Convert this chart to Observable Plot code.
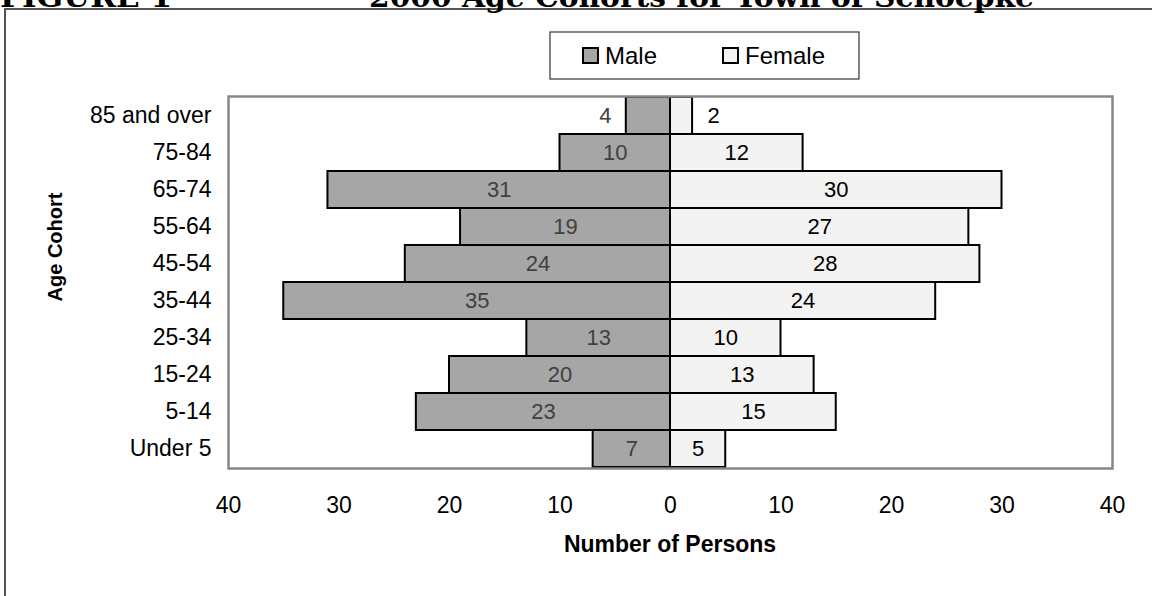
<!DOCTYPE html>
<html><head><meta charset="utf-8">
<script src="https://cdn.jsdelivr.net/npm/d3@7"></script>
<script src="https://cdn.jsdelivr.net/npm/@observablehq/plot@0.6"></script>
<style>
body{margin:0;background:#fff;overflow:hidden}
#wrap{position:relative;width:1152px;height:596px;font-family:"Liberation Sans",Arial,sans-serif}
#wrap svg{position:absolute;left:0;top:0}
</style></head><body><div id="wrap"></div>
<script>
const cohorts = ["85 and over","75-84","65-74","55-64","45-54","35-44","25-34","15-24","5-14","Under 5"];
const male = [4,10,31,19,24,35,13,20,23,7];
const female = [2,12,30,27,28,24,10,13,15,5];
const xTicks = [-40,-30,-20,-10,0,10,20,30,40];
const seriesNames = ["Male","Female"];
const figureLabel = "FIGURE 1";
const titleText = "2000 Age Cohorts for Town of Schoepke";
const xTitle = "Number of Persons";
const yTitle = "Age Cohort";

const rows = cohorts.map((c,i)=>({cohort:c, male:male[i], female:female[i]}));
const font = "Liberation Sans, Arial, sans-serif";
const maleFill = "#a6a6a6";
const femaleFill = "#f3f3f3";

const plot = Plot.plot({
  width:1152, height:596,
  marginLeft:228, marginRight:40, marginTop:96, marginBottom:128,
  style:{fontFamily:font, fontSize:"23px", color:"#000", background:"transparent", overflow:"visible"},
  x:{domain:[-40,40], ticks:xTicks, tickFormat:d=>Math.abs(d), tickSize:0, tickPadding:28, label:null},
  y:{domain:cohorts, padding:0, tickSize:0, tickPadding:17, label:null},
  marks:[
    Plot.barX(rows,{y:"cohort", x1:d=>-d.male, x2:0, fill:maleFill, stroke:"#000", strokeWidth:2}),
    Plot.barX(rows,{y:"cohort", x1:0, x2:"female", fill:femaleFill, stroke:"#000", strokeWidth:2}),
    Plot.text(rows,{filter:d=>d.male>=5, y:"cohort", x:d=>-d.male/2, text:d=>String(d.male), fill:"#404040", fontSize:22}),
    Plot.text(rows,{filter:d=>d.male<5, y:"cohort", x:d=>-d.male, dx:-21, text:d=>String(d.male), fill:"#404040", fontSize:22}),
    Plot.text(rows,{filter:d=>d.female>=5, y:"cohort", x:d=>d.female/2, text:d=>String(d.female), fill:"#000", fontSize:22}),
    Plot.text(rows,{filter:d=>d.female<5, y:"cohort", x:d=>d.female, dx:21, text:d=>String(d.female), fill:"#000", fontSize:22}),
    Plot.frame({stroke:"#878787", strokeWidth:2.5})
  ]
});

const wrap = document.getElementById("wrap");
wrap.appendChild(plot);

// overlay: frame, title, legend, axis titles
const ov = d3.select(wrap).append("svg").attr("width",1152).attr("height",596)
  .style("pointer-events","none").style("overflow","hidden");
ov.append("rect").attr("x",5).attr("y",9).attr("width",1200).attr("height",700)
  .attr("fill","none").attr("stroke","#555").attr("stroke-width",2);
ov.append("text").attr("x",0).attr("y",7).attr("font-family","DejaVu Serif, serif").attr("font-weight","bold")
  .attr("font-size",28).attr("textLength",172).attr("lengthAdjust","spacingAndGlyphs").text(figureLabel);
ov.append("text").attr("x",369).attr("y",7).attr("font-family","DejaVu Serif, serif").attr("font-weight","bold")
  .attr("font-size",28).attr("textLength",665).attr("lengthAdjust","spacingAndGlyphs").text(titleText);

// legend
const lg = ov.append("g").attr("font-family",font).attr("font-size",24);
lg.append("rect").attr("x",550).attr("y",32).attr("width",309).attr("height",47)
  .attr("fill","#fff").attr("stroke","#333").attr("stroke-width",1.2);
const legendItems = [
  {name:seriesNames[0], sx:583, tx:605, fill:maleFill},
  {name:seriesNames[1], sx:723, tx:745, fill:femaleFill}
];
legendItems.forEach(it=>{
  lg.append("rect").attr("x",it.sx).attr("y",48).attr("width",15).attr("height",15)
    .attr("fill",it.fill).attr("stroke","#000").attr("stroke-width",2);
  lg.append("text").attr("x",it.tx).attr("y",64).text(it.name);
});

ov.append("text").attr("transform","translate(62,247) rotate(-90)").attr("text-anchor","middle")
  .attr("font-family",font).attr("font-weight","bold").attr("font-size",20).text(yTitle);
ov.append("text").attr("x",670).attr("y",552).attr("text-anchor","middle")
  .attr("font-family",font).attr("font-weight","bold").attr("font-size",23).text(xTitle);
</script>
</body></html>
